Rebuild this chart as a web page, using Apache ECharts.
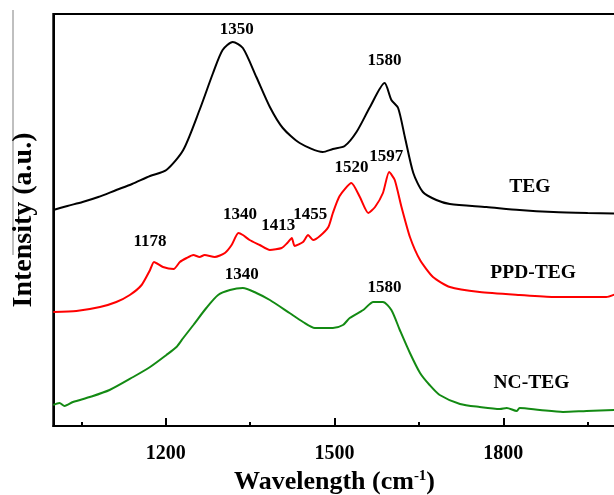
<!DOCTYPE html>
<html>
<head>
<meta charset="utf-8">
<script src="https://cdn.jsdelivr.net/npm/echarts@6/dist/echarts.min.js"></script>
<style>
html,body{margin:0;padding:0;background:#fff;}
#chart{width:614px;height:495px;}
</style>
</head>
<body>
<div id="chart"></div>
<script>
// Raman spectra (x: wavenumber cm^-1, y: intensity in arbitrary units, offset stacked)
const tegData = [
  [1000,216],[1025,220],[1052,224],[1080,229],[1112,236],[1140,242],[1172,250],[1201,256],
  [1231,276],[1260,316],[1284,353],[1301,376],[1319,384],[1337,378],[1361,349],[1385,319],
  [1408,298],[1438,283],[1479,274],[1497,277],[1518,280],[1539,294],[1563,319],[1589,343],
  [1601,326],[1613,318],[1625,289],[1640,253],[1657,234],[1681,226],[1705,222],[1770,219],
  [1829,216],[1889,214],[1950,213],[2000,212.5]
];
const ppdTegData = [
  [1000,114],[1041,115],[1083,119],[1112,124],[1136,131],[1157,141],[1172,156],[1179,164],
  [1195,159],[1214,157],[1225,164],[1237,168],[1249,171],[1260,169],[1269,171],[1287,169],
  [1305,173],[1317,181],[1329,193],[1337,191],[1349,186],[1367,181],[1385,176],[1406,178],
  [1416,183],[1424,188],[1429,180],[1444,184],[1453,191],[1462,186],[1474,190],[1489,199],
  [1497,213],[1509,230],[1530,243],[1545,229],[1560,213],[1572,219],[1586,233],[1597,254],
  [1607,246],[1619,219],[1634,189],[1652,166],[1675,149],[1705,139],[1758,134],[1829,131],
  [1889,129],[1983,129],[2000,132]
];
const ncTegData = [
  [1000,21],[1011,23],[1020,20],[1035,24],[1065,29],[1100,36],[1142,49],[1172,59],
  [1201,71],[1219,79],[1231,88],[1249,101],[1272,118],[1293,131],[1314,136],[1337,138],
  [1361,133],[1385,126],[1420,113],[1444,104],[1465,98],[1497,98],[1515,101],[1527,108],
  [1551,116],[1569,124],[1586,124],[1601,116],[1616,96],[1634,73],[1652,53],[1669,41],
  [1687,31],[1723,22],[1758,19],[1794,17],[1806,18],[1824,15],[1829,18],[1865,16],
  [1906,14],[1948,15],[2000,16]
];
// Peak annotations: [x, y, text]
const peakLabels = [
  [1326,396,'1350'],[1589,365,'1580'],
  [1172,184,'1178'],[1332,211,'1340'],[1400,200,'1413'],[1457,211,'1455'],
  [1530,258,'1520'],[1592,269,'1597'],
  [1335,151,'1340'],[1589,138,'1580']
];
// Sample names: [x, y, text]
const sampleLabels = [
  [1847,239,'TEG'],[1853,153,'PPD-TEG'],[1850,43,'NC-TEG']
];
const majorTicks = [1200,1500,1800];
const minorTicks = [1050,1350,1650,1950];

const FONT = '"Liberation Serif", "Times New Roman", serif';
const chart = echarts.init(document.getElementById('chart'));
chart.setOption({
  animation: false,
  backgroundColor: '#fff',
  grid: {left: 53.3, top: 14, width: 562.5, height: 412, outerBoundsMode: 'none', containLabel: false,
    show: true, borderColor: '#000', borderWidth: 2, backgroundColor: 'transparent'},
  xAxis: [{
    type: 'value', min: 1000, max: 2000,
    name: 'Wavelength (cm{sup|-1})', nameLocation: 'middle', nameGap: 41,
    nameTextStyle: {fontFamily: FONT, fontWeight: 'bold', fontSize: 26, color: '#000',
      rich: {sup: {fontFamily: FONT, fontWeight: 'bold', fontSize: 15, color: '#000', verticalAlign: 'top'}}},
    axisLine: {show: true, onZero: false, lineStyle: {color: '#000', width: 2}},
    axisTick: {show: true, inside: true, length: 8, customValues: majorTicks, lineStyle: {color: '#000', width: 2}},
    axisLabel: {show: true, customValues: majorTicks, margin: 18, formatter: v => String(v),
      fontFamily: FONT, fontWeight: 'bold', fontSize: 20, color: '#000'},
    splitLine: {show: false}
  }, {
    type: 'value', min: 1000, max: 2000, position: 'bottom',
    axisLine: {show: false},
    axisTick: {show: true, inside: true, length: 4, customValues: minorTicks, lineStyle: {color: '#000', width: 2}},
    axisLabel: {show: false},
    splitLine: {show: false}
  }],
  yAxis: {
    type: 'value', min: 0, max: 412,
    name: 'Intensity (a.u.)', nameLocation: 'middle', nameGap: 16, nameRotate: 90,
    nameTextStyle: {fontFamily: FONT, fontWeight: 'bold', fontSize: 28, color: '#000'},
    axisLine: {show: true, onZero: false, lineStyle: {color: '#000', width: 2}},
    axisTick: {show: false}, axisLabel: {show: false}, splitLine: {show: false}
  },
  graphic: [{
    type: 'line', shape: {x1: 13, y1: 10, x2: 13, y2: 255},
    style: {stroke: '#808080', lineWidth: 1}, silent: true
  }],
  series: [
    {name: 'TEG', type: 'line', data: tegData, showSymbol: false, smooth: 0.25,
     lineStyle: {color: '#000000', width: 2}},
    {name: 'PPD-TEG', type: 'line', data: ppdTegData, showSymbol: false, smooth: 0.2,
     lineStyle: {color: '#ff0000', width: 2}},
    {name: 'NC-TEG', type: 'line', data: ncTegData, showSymbol: false, smooth: 0.25,
     lineStyle: {color: '#138a13', width: 2}},
    {type: 'scatter', symbolSize: 0, silent: true, itemStyle: {opacity: 1},
     data: peakLabels.map(d => ({value: [d[0], d[1]], name: d[2]})),
     label: {show: true, position: 'inside', formatter: '{b}', fontFamily: FONT, fontWeight: 'bold', fontSize: 17, color: '#000'}},
    {type: 'scatter', symbolSize: 0, silent: true, itemStyle: {opacity: 1},
     data: sampleLabels.map(d => ({value: [d[0], d[1]], name: d[2]})),
     label: {show: true, position: 'inside', formatter: '{b}', fontFamily: FONT, fontWeight: 'bold', fontSize: 19.5, color: '#000'}}
  ]
});
</script>
</body>
</html>
